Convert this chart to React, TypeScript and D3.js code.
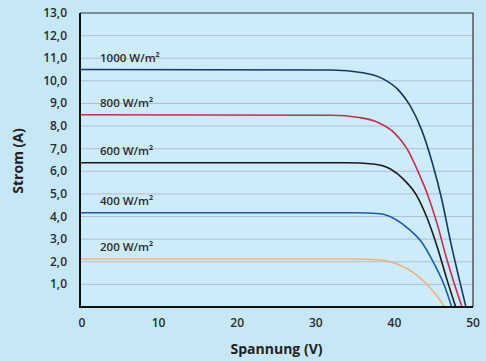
import React, { useEffect, useRef } from "react";
import * as d3 from "d3";

// Kennlinien: [Spannung (V), Strom (A)]
const curve1000: [number, number][] = [
  [0, 10.5], [32, 10.48], [36, 10.36], [38.5, 10.1], [40.5, 9.6], [42, 8.9],
  [43.5, 7.8], [44.8, 6.4], [46, 4.8], [47.2, 2.8], [48.2, 1.3], [49.1, 0],
];
const curve800: [number, number][] = [
  [0, 8.5], [32, 8.48], [35.5, 8.38], [38, 8.15], [40, 7.7], [41.6, 7.0],
  [43, 6.0], [44.3, 4.9], [45.5, 3.6], [46.6, 2.2], [47.7, 0.95], [48.6, 0],
];
const curve600: [number, number][] = [
  [0, 6.38], [34, 6.38], [37.3, 6.32], [39.5, 6.1], [41.3, 5.6], [42.8, 4.95],
  [44.2, 3.9], [45.5, 2.6], [46.7, 1.2], [47.8, 0],
];
const curve400: [number, number][] = [
  [0, 4.17], [35, 4.17], [38.2, 4.12], [40, 3.9], [41.8, 3.45], [43.5, 2.85],
  [45, 1.95], [46.3, 1.0], [47.3, 0],
];
const curve200: [number, number][] = [
  [0, 2.12], [35, 2.12], [38.2, 2.08], [40.5, 1.88], [42.5, 1.5], [44, 1.05],
  [45.4, 0.5], [46.4, 0],
];

const seriesNames = ["1000 W/m²", "800 W/m²", "600 W/m²", "400 W/m²", "200 W/m²"];
const seriesData = [curve1000, curve800, curve600, curve400, curve200];
const seriesColors = ["#17385a", "#c4304c", "#1b1b1b", "#1d5ea3", "#efb27e"];

const yTicks = d3.range(1, 14);
const xTicks = [0, 10, 20, 30, 40, 50];

const W = 486;
const H = 361;
const margin = { top: 13, right: 13, bottom: 54, left: 80 };

export default function App() {
  const ref = useRef<SVGSVGElement | null>(null);

  useEffect(() => {
    const svg = d3.select(ref.current);
    svg.selectAll("*").remove();

    const x = d3.scaleLinear().domain([0, 50]).range([margin.left, W - margin.right]);
    const y = d3.scaleLinear().domain([0, 13]).range([H - margin.bottom, margin.top]);

    svg.append("rect").attr("width", W).attr("height", H).attr("fill", "#c6e7f6");
    svg.append("rect")
      .attr("x", x(0)).attr("y", y(13))
      .attr("width", x(50) - x(0)).attr("height", y(0) - y(13))
      .attr("fill", "#cdebf8");

    // horizontale Gitterlinien
    svg.append("g")
      .selectAll("line")
      .data(yTicks.slice(0, -1))
      .join("line")
      .attr("x1", x(0)).attr("x2", x(50))
      .attr("y1", (d) => y(d)).attr("y2", (d) => y(d))
      .attr("stroke", "#afbfd6")
      .attr("stroke-width", 1);

    const font = "'Open Sans', 'DejaVu Sans', sans-serif";

    // y-Achse Beschriftung
    svg.append("g")
      .selectAll("text")
      .data(yTicks)
      .join("text")
      .attr("x", 67)
      .attr("y", (d) => y(d) + 4)
      .attr("text-anchor", "end")
      .attr("font-family", font)
      .attr("font-size", 12)
      .attr("font-weight", 600)
      .attr("fill", "#2b2b2b")
      .text((d) => d3.format(".1f")(d).replace(".", ","));

    svg.append("g")
      .selectAll("text")
      .data(xTicks)
      .join("text")
      .attr("x", (d) => x(d) + (d === 0 ? 2 : 0))
      .attr("y", 327)
      .attr("text-anchor", "middle")
      .attr("font-family", font)
      .attr("font-size", 12)
      .attr("font-weight", 600)
      .attr("fill", "#2b2b2b")
      .text((d) => d);

    // Kennlinien
    const line = d3.line<[number, number]>()
      .x((d) => x(d[0]))
      .y((d) => y(d[1]))
      .curve(d3.curveMonotoneX);

    svg.append("g")
      .selectAll("path")
      .data(seriesData)
      .join("path")
      .attr("d", (d) => line(d))
      .attr("fill", "none")
      .attr("stroke", (_, i) => seriesColors[i])
      .attr("stroke-width", 1.6);

    svg.append("g")
      .selectAll("text")
      .data(seriesData)
      .join("text")
      .attr("x", 100)
      .attr("y", (d) => y(d[0][1]) - 8)
      .attr("font-family", font)
      .attr("font-size", 11.5)
      .attr("font-weight", 600)
      .attr("fill", "#2b2b2b")
      .text((_, i) => seriesNames[i]);

    // Rahmen
    svg.append("path")
      .attr("d", `M${x(0)},${y(13)}H${x(50)}V${y(0)}`)
      .attr("fill", "none")
      .attr("stroke", "#333")
      .attr("stroke-width", 1.2);
    svg.append("path")
      .attr("d", `M${x(0)},${y(13)}V${y(0)}H${x(50)}`)
      .attr("fill", "none")
      .attr("stroke", "#111")
      .attr("stroke-width", 2);

    svg.append("text")
      .attr("x", (x(0) + x(50)) / 2)
      .attr("y", 354)
      .attr("text-anchor", "middle")
      .attr("font-family", font)
      .attr("font-size", 14)
      .attr("font-weight", 700)
      .attr("fill", "#222")
      .text("Spannung (V)");

    svg.append("text")
      .attr("transform", `translate(23,161) rotate(-90)`)
      .attr("text-anchor", "middle")
      .attr("font-family", font)
      .attr("font-size", 14)
      .attr("font-weight", 700)
      .attr("fill", "#222")
      .text("Strom (A)");
  }, []);

  return (
    <svg
      ref={ref}
      width={W}
      height={H}
      style={{ position: "absolute", left: 0, top: 0, display: "block" }}
    />
  );
}
